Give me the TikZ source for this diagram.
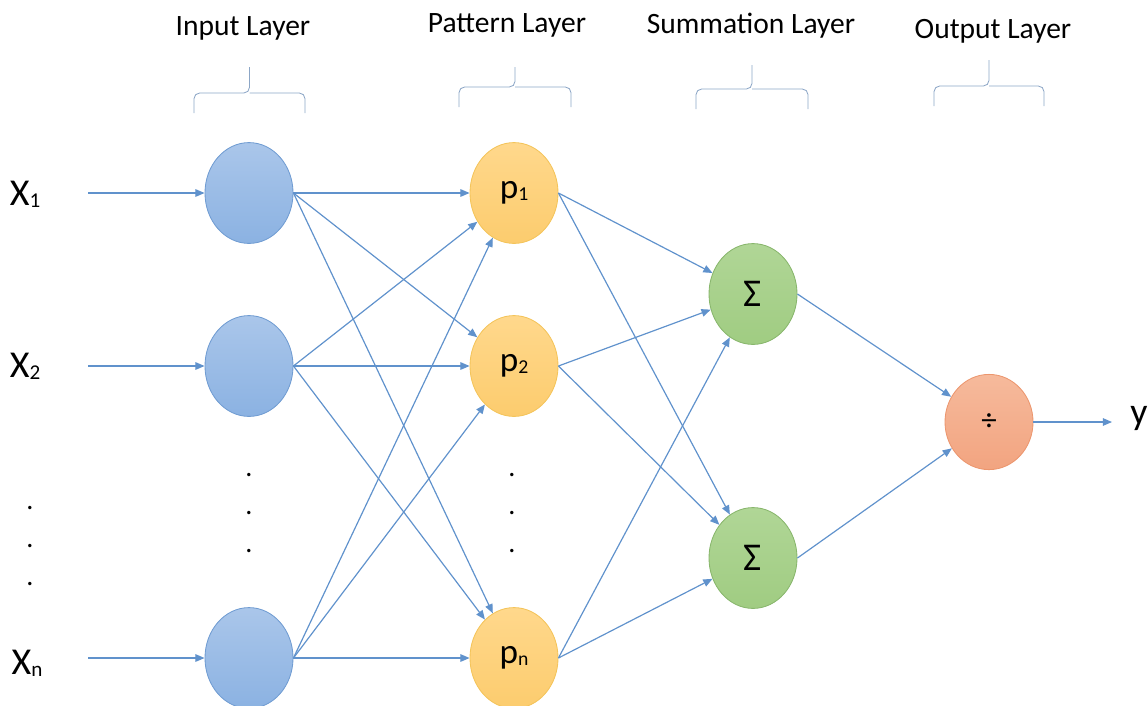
\documentclass[tikz,border=0pt]{standalone}
\usepackage{fontspec}
\setmainfont{Carlito}
\usepackage{tikz}
\usetikzlibrary{arrows.meta,shapes.geometric}
\definecolor{bleulien}{RGB}{96,146,204}
\definecolor{accol}{RGB}{140,166,198}
\definecolor{bleuH}{RGB}{170,198,234}
\definecolor{bleuB}{RGB}{139,178,226}
\definecolor{bleuT}{RGB}{112,156,210}
\definecolor{jauneH}{RGB}{255,216,140}
\definecolor{jauneB}{RGB}{252,204,110}
\definecolor{jauneT}{RGB}{244,196,90}
\definecolor{vertH}{RGB}{176,214,150}
\definecolor{vertB}{RGB}{160,204,130}
\definecolor{vertT}{RGB}{136,182,108}
\definecolor{saumonH}{RGB}{246,186,156}
\definecolor{saumonB}{RGB}{242,164,128}
\definecolor{saumonT}{RGB}{236,150,110}
\newcommand{\indice}[2][13]{\raisebox{-0.1ex}{\fontsize{#1}{#1}\selectfont #2}}

\begin{document}
\begin{tikzpicture}[x=0.025cm,y=-0.025cm,
		noeud/.style={ellipse,inner sep=0pt,minimum width=2.2cm,minimum height=2.52cm,line width=0.6pt},
		entree/.style={noeud,draw=bleuT,top color=bleuH,bottom color=bleuB},
		motif/.style={noeud,draw=jauneT,top color=jauneH,bottom color=jauneB,font=\fontsize{25}{25}\selectfont},
		somme/.style={noeud,draw=vertT,top color=vertH,bottom color=vertB,font=\fontsize{28}{28}\selectfont},
		sortie/.style={noeud,minimum height=2.38cm,draw=saumonT,top color=saumonH,bottom color=saumonB,font=\fontsize{22}{22}\selectfont},
		titre/.style={anchor=base,font=\fontsize{21}{25}\selectfont},
		etiq/.style={font=\fontsize{27}{27}\selectfont},
		points/.style={align=center,font=\fontsize{20}{27}\selectfont},
		lien/.style={bleulien,line width=0.85pt,-{Triangle[length=2.3mm,width=1.9mm]}}]
	\useasboundingbox (0,0) rectangle (1148,705);
	\clip (0,0) rectangle (1148,705);
	
	% titres et accolades
	\node[titre] (tin) at (243,35){Input Layer};
	\node[titre] (tpat) at (507,32){Pattern Layer};
	\node[titre] (tsom) at (751,33){Summation Layer};
	\node[titre] (tout) at (993,38){Output Layer};
	\foreach \g/\d/\h/\t/\b in {194/305/93/67/113,459/571/87/67/107,696/808/89/65/109,934/1044/86/60/106}{
		\draw[accol,line width=0.6pt,rounded corners=4pt]
		(\g,\b)--(\g,\h)--({(\g+\d)/2},\h)--({(\g+\d)/2},\t);
		\draw[accol,line width=0.6pt,rounded corners=4pt]
		(\d,\b)--(\d,\h)--({(\g+\d)/2},\h);
	}
	
	% neurones
	\node[entree] (i1) at (249,193){};
	\node[entree] (i2) at (249,366){};
	\node[entree] (in) at (249,658){};
	\node[motif] (p1) at (514,193){p\indice[14]{1}};
	\node[motif] (p2) at (514,366){p\indice[14]{2}};
	\node[motif] (pn) at (514,658){p\indice[14]{n}};
	\node[somme] (s1) at (753,294){Σ};
	\node[somme] (s2) at (753,558){Σ};
	\node[sortie] (out) at (989,422){÷};
	
	\node[points] (d0) at (30,546){.\\.\\.};
	\node[points] (d1) at (249,513){.\\.\\.};
	\node[points] (d2) at (512,513){.\\.\\.};
	
	% entrees et sortie
	\node[etiq] (x1) at (25,194){X\indice[15]{1}};
	\node[etiq] (x2) at (25,366){X\indice[15]{2}};
	\node[etiq] (xn) at (27,663){X\indice[15]{n}};
	\coordinate (a1) at (88,193);
	\coordinate (a2) at (88,366);
	\coordinate (an) at (88,658);
	\coordinate (ay) at (1112,422);
	\node[etiq] (y) at (1139,418){y};
	
	\draw[lien] (a1)--(i1);
	\draw[lien] (a2)--(i2);
	\draw[lien] (an)--(in);
	\foreach \a in {i1,i2,in}{
		\foreach \b in {p1,p2,pn}{
			\draw[lien] (\a.east)--(\b);
		}
	}
	\foreach \a in {p1,p2,pn}{
		\foreach \b in {s1,s2}{
			\draw[lien] (\a.east)--(\b);
		}
	}
	\draw[lien] (s1.east)--(out);
	\draw[lien] (s2.east)--(out);
	\draw[lien] (out.east)--(ay);
\end{tikzpicture}
\end{document}
